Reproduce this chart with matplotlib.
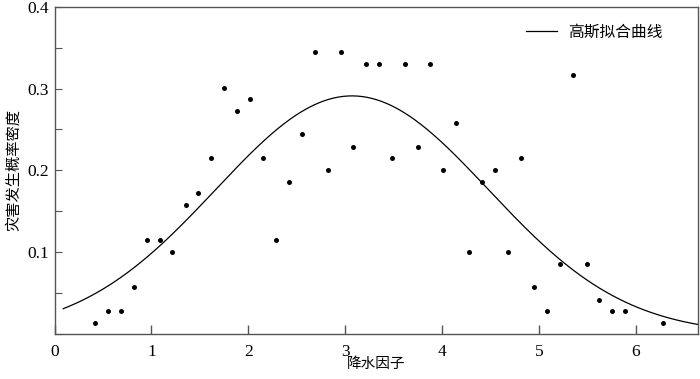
import numpy as np
import matplotlib
matplotlib.use("Agg")
import matplotlib.pyplot as plt
from matplotlib.ticker import MultipleLocator

# Data
rain_factor = [0.42, 0.55, 0.69, 0.82, 0.95, 1.09, 1.21, 1.36, 1.48, 1.62,
               1.75, 1.88, 2.02, 2.15, 2.29, 2.42, 2.55, 2.69, 2.82, 2.96,
               3.08, 3.21, 3.35, 3.48, 3.62, 3.75, 3.87, 4.01, 4.14, 4.28,
               4.41, 4.55, 4.68, 4.81, 4.95, 5.08, 5.22, 5.35, 5.49, 5.62,
               5.75, 5.89, 6.28]
density = [0.014, 0.028, 0.028, 0.057, 0.115, 0.115, 0.100, 0.158, 0.172, 0.215,
           0.301, 0.273, 0.287, 0.215, 0.115, 0.186, 0.244, 0.345, 0.200, 0.345,
           0.229, 0.330, 0.330, 0.215, 0.330, 0.229, 0.330, 0.200, 0.258, 0.100,
           0.186, 0.200, 0.100, 0.215, 0.057, 0.028, 0.086, 0.316, 0.086, 0.042,
           0.028, 0.028, 0.014]

# Gaussian fit parameters: a * exp(-((x-b)/c)^2)
gauss_a = 0.291
gauss_b = 3.07
gauss_c = 1.99
curve_range = [0.09, 6.64]

xticks = [0, 1, 2, 3, 4, 5, 6]
yticks = [0.1, 0.2, 0.3, 0.4]
ytick_labels = ["0.1", "0.2", "0.3", "0.4"]

plt.rcParams['font.family'] = ['Liberation Serif', 'Noto Sans CJK SC']

fig = plt.figure(figsize=(7.0, 3.79), dpi=100)
ax = fig.add_axes([54.5/700, 1-334/379, (698-54.5)/700, (334-6.7)/379])

xs = np.linspace(curve_range[0], curve_range[1], 400)
ys = gauss_a * np.exp(-((xs - gauss_b) / gauss_c) ** 2)
ax.plot(xs, ys, color='black', lw=0.9, label='高斯拟合曲线')
ax.plot(rain_factor, density, 'o', color='black', ms=3.6, mec='none')

ax.set_xlim(0, 6.64)
ax.set_ylim(0, 0.4)
ax.set_xticks(xticks)
ax.set_xticklabels([str(t) for t in xticks])
ax.set_yticks(yticks)
ax.set_yticklabels(ytick_labels)
ax.yaxis.set_minor_locator(MultipleLocator(0.05))

for s in ax.spines.values():
    s.set_color('#555555')
    s.set_linewidth(1.0)

ax.tick_params(axis='x', which='major', direction='in', length=6.5, width=1.0,
               color='#555555', pad=7, labelsize=12.5, top=False)
ax.tick_params(axis='y', which='both', direction='in', length=5, width=0.8,
               color='#555555', pad=4, labelsize=12.5, right=False)

ax.set_xlabel('降水因子', family=['Noto Sans CJK SC'], fontsize=10.5, labelpad=-2)
ax.set_ylabel('灾害发生概率密度', family=['Noto Sans CJK SC'], fontsize=11, labelpad=4)

leg = ax.legend(loc='upper right', frameon=False, prop={'family': 'Noto Sans CJK SC', 'size': 11.3},
                handlelength=2.0, handletextpad=0.7, borderaxespad=0,
                bbox_to_anchor=(0.955, 0.967))

fig.savefig('out.png', dpi=100)
